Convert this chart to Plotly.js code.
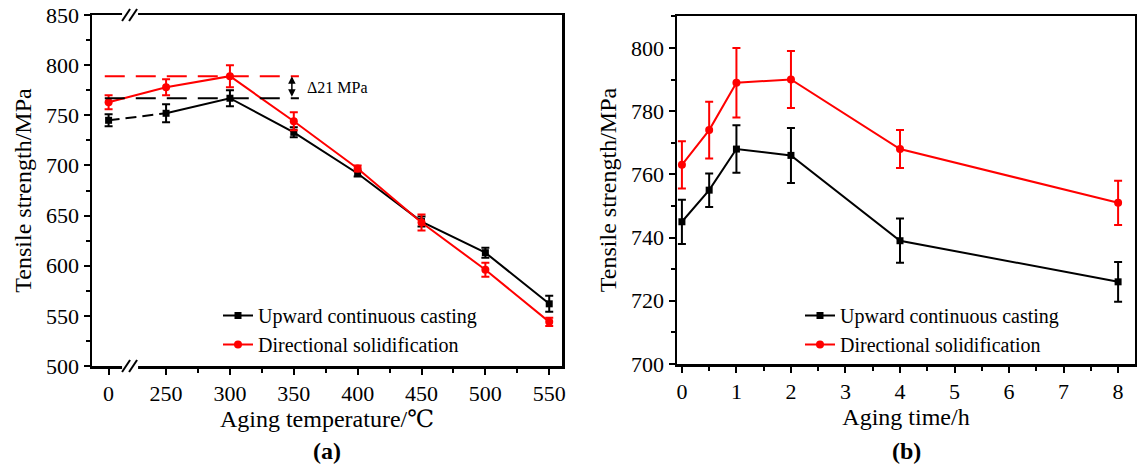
<!DOCTYPE html>
<html>
<head>
<meta charset="utf-8">
<script src="https://cdn.plot.ly/plotly-3.0.1.min.js"></script>
<style>html,body{margin:0;padding:0;background:#fff;}#chart{width:1137px;height:468px;}</style>
</head>
<body>
<div id="chart"></div>
<script>
// ---------- data ----------
const temps = [0, 250, 300, 350, 400, 450, 500, 550];
const tempLabels = ['0', '250', '300', '350', '400', '450', '500', '550'];
const ucTemp = [745, 752, 767, 733, 692, 644, 613, 562];
const ucTempErr = [6, 9, 8, 5, 3, 5, 5, 8];
const dsTemp = [763, 778, 789, 744, 697, 643, 596, 544];
const dsTempErr = [7, 8, 11, 9, 3, 8, 7, 4];

const times = [0, 0.5, 1, 2, 4, 8];
const ucTime = [745, 755, 768, 766, 739, 726];
const ucTimeErr = [7, 5.3, 7.5, 8.7, 7, 6.3];
const dsTime = [763, 774, 789, 790, 768, 751];
const dsTimeErr = [7.5, 9, 11, 9, 6, 7];

const seriesNames = ['Upward continuous casting', 'Directional solidification'];

// axis break: 0 °C is drawn just left of the break on a linear 250–550 scale
const BREAK_ZERO = 205;
const tempPos = temps.map(t => t === 0 ? BREAK_ZERO : t);

const FONT = '"Liberation Serif", "Times New Roman", Times, "DejaVu Serif", serif';
const BLACK = '#000000', RED = '#ff0000';

function errs(arr, color) {
  return {type: 'data', array: arr, visible: true, color: color, thickness: 2, width: 4};
}

const traces = [
  // panel (a)
  {x: tempPos.slice(0, 2), y: ucTemp.slice(0, 2), mode: 'lines', line: {color: BLACK, width: 2, dash: '11px,6px'},
   showlegend: false, hoverinfo: 'skip', xaxis: 'x', yaxis: 'y'},
  {x: tempPos.slice(0, 1), y: ucTemp.slice(0, 1), mode: 'markers', marker: {symbol: 'square', size: 7, color: BLACK},
   error_y: errs(ucTempErr.slice(0, 1), BLACK), showlegend: false, xaxis: 'x', yaxis: 'y'},
  {x: tempPos.slice(1), y: ucTemp.slice(1), mode: 'lines+markers', name: seriesNames[0],
   line: {color: BLACK, width: 2}, marker: {symbol: 'square', size: 7, color: BLACK},
   error_y: errs(ucTempErr.slice(1), BLACK), xaxis: 'x', yaxis: 'y', legend: 'legend'},
  {x: tempPos, y: dsTemp, mode: 'lines+markers', name: seriesNames[1],
   line: {color: RED, width: 2}, marker: {symbol: 'circle', size: 8, color: RED},
   error_y: errs(dsTempErr, RED), xaxis: 'x', yaxis: 'y', legend: 'legend'},
  // panel (b)
  {x: times, y: ucTime, mode: 'lines+markers', name: seriesNames[0],
   line: {color: BLACK, width: 2}, marker: {symbol: 'square', size: 7, color: BLACK},
   error_y: errs(ucTimeErr, BLACK), xaxis: 'x2', yaxis: 'y2', legend: 'legend2'},
  {x: times, y: dsTime, mode: 'lines+markers', name: seriesNames[1],
   line: {color: RED, width: 2}, marker: {symbol: 'circle', size: 8, color: RED},
   error_y: errs(dsTimeErr, RED), xaxis: 'x2', yaxis: 'y2', legend: 'legend2'}
];

const W = 1137, H = 468;
const axisCommon = {
  showline: true, linecolor: BLACK, linewidth: 2.5, mirror: true, showgrid: false, zeroline: false,
  ticks: 'outside', ticklen: 6, tickwidth: 2, tickcolor: BLACK,
  tickfont: {family: FONT, size: 22, color: BLACK}
};

const ucMax = Math.max(...ucTemp), dsMax = Math.max(...dsTemp);
const refX0 = 202, refX1 = 354, arrowX = 348.5;
const breakX = 221.8;

function breakMark(yref, yval) {
  return [
    {type: 'rect', xref: 'x', yref: yref, xsizemode: 'pixel', ysizemode: 'pixel', xanchor: breakX, yanchor: yval,
     x0: -8, x1: 8, y0: -3, y1: 3, fillcolor: '#ffffff', line: {width: 0}, layer: 'above'},
    {type: 'line', xref: 'x', yref: yref, xsizemode: 'pixel', ysizemode: 'pixel', xanchor: breakX, yanchor: yval,
     x0: -8, x1: 0, y0: -6, y1: 6, line: {color: BLACK, width: 2}, layer: 'above'},
    {type: 'line', xref: 'x', yref: yref, xsizemode: 'pixel', ysizemode: 'pixel', xanchor: breakX, yanchor: yval,
     x0: -1, x1: 7, y0: -6, y1: 6, line: {color: BLACK, width: 2}, layer: 'above'}
  ];
}

const layout = {
  width: W, height: H,
  margin: {l: 0, r: 0, t: 0, b: 0},
  paper_bgcolor: '#ffffff', plot_bgcolor: '#ffffff',
  font: {family: FONT, color: BLACK},
  showlegend: true,
  xaxis: Object.assign({}, axisCommon, {
    domain: [92 / W, 562 / W], range: [192, 560], anchor: 'y',
    tickmode: 'array', tickvals: tempPos, ticktext: tempLabels,
    minor: {tickvals: [275, 325, 375, 425, 475, 525], ticks: 'outside', ticklen: 4, tickwidth: 2, tickcolor: BLACK},
    title: {text: 'Aging temperature/℃', font: {family: FONT, size: 24, color: BLACK}, standoff: 6}
  }),
  yaxis: Object.assign({}, axisCommon, {
    domain: [1 - 366 / H, 1 - 15 / H], range: [500, 850], anchor: 'x',
    tickmode: 'linear', tick0: 500, dtick: 50,
    minor: {dtick: 25, ticks: 'outside', ticklen: 4, tickwidth: 2, tickcolor: BLACK},
    title: {text: 'Tensile strength/MPa', font: {family: FONT, size: 24, color: BLACK}, standoff: 8}
  }),
  xaxis2: Object.assign({}, axisCommon, {
    domain: [677 / W, 1135 / W], range: [-0.09, 8.31], anchor: 'y2',
    tickmode: 'linear', tick0: 0, dtick: 1,
    minor: {dtick: 0.5, ticks: 'outside', ticklen: 4, tickwidth: 2, tickcolor: BLACK},
    title: {text: 'Aging time/h', font: {family: FONT, size: 24, color: BLACK}, standoff: 6}
  }),
  yaxis2: Object.assign({}, axisCommon, {
    domain: [1 - 364 / H, 1 - 16 / H], range: [700, 810.1], anchor: 'x2',
    tickmode: 'linear', tick0: 700, dtick: 20,
    minor: {dtick: 10, ticks: 'outside', ticklen: 4, tickwidth: 2, tickcolor: BLACK},
    title: {text: 'Tensile strength/MPa', font: {family: FONT, size: 24, color: BLACK}, standoff: 8}
  }),
  legend: {x: 218 / W, y: 1 - 296 / H, xanchor: 'left', yanchor: 'top', bgcolor: 'rgba(0,0,0,0)',
           font: {family: FONT, size: 20, color: BLACK}, tracegroupgap: 0, itemwidth: 30},
  legend2: {x: 800 / W, y: 1 - 296 / H, xanchor: 'left', yanchor: 'top', bgcolor: 'rgba(0,0,0,0)',
            font: {family: FONT, size: 20, color: BLACK}, tracegroupgap: 0, itemwidth: 30},
  shapes: [
    {type: 'line', xref: 'x', yref: 'y', x0: refX0, x1: refX1, y0: dsMax, y1: dsMax,
     line: {color: RED, width: 2, dash: '20px,11px'}},
    {type: 'line', xref: 'x', yref: 'y', x0: refX0, x1: refX1, y0: ucMax, y1: ucMax,
     line: {color: BLACK, width: 2, dash: '20px,11px'}}
  ].concat(breakMark('y domain', 1), breakMark('y domain', 0)),
  annotations: [
    {x: arrowX, y: dsMax, ax: arrowX, ay: ucMax, xref: 'x', yref: 'y', axref: 'x', ayref: 'y',
     text: '', showarrow: true, arrowhead: 2, startarrowhead: 2, arrowside: 'end+start',
     arrowsize: 1, arrowwidth: 1.5, arrowcolor: BLACK},
    {x: 359, y: (dsMax + ucMax) / 2, xref: 'x', yref: 'y', xanchor: 'left', yanchor: 'middle',
     text: 'Δ21 MPa', showarrow: false, font: {family: FONT, size: 16, color: BLACK}},
    {x: 327 / W, y: 1 - 451 / H, xref: 'paper', yref: 'paper', xanchor: 'center', yanchor: 'middle',
     text: '<b>(a)</b>', showarrow: false, font: {family: FONT, size: 24, color: BLACK}},
    {x: 906 / W, y: 1 - 451 / H, xref: 'paper', yref: 'paper', xanchor: 'center', yanchor: 'middle',
     text: '<b>(b)</b>', showarrow: false, font: {family: FONT, size: 24, color: BLACK}}
  ]
};

Plotly.newPlot('chart', traces, layout, {staticPlot: true, displayModeBar: false});
</script>
</body>
</html>
